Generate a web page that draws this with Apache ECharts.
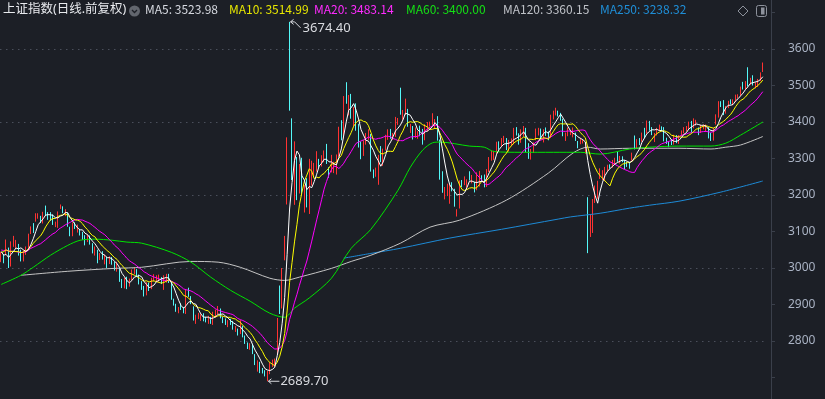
<!DOCTYPE html>
<html>
<head>
<meta charset="utf-8">
<style>
  html, body { margin: 0; padding: 0; background: #1c1f26; overflow: hidden; }
  /* 画布比窗口高, 往上挪 24px, 让 3600 正好落在第 49 行 */
  #main { position: absolute; left: 0; top: -24px; width: 825px; height: 438px; }
</style>
<script src="https://cdn.jsdelivr.net/npm/echarts@6/dist/echarts.min.js"></script>
</head>
<body>
<div id="main"></div>
<script>
// 上证指数 日K 2024-04-11 ~ 2025-07-21, 每根 [开, 收, 低, 高]
const kdata = [
  // 2024-04
  [3030,3034,3016,3044],[3031,3019,3013,3038],[3055,3057,3037,3078],[3053,3007,3000,3056],[3006,3071,3004,3073],
  [3064,3074,3058,3088],[3058,3065,3053,3077],[3058,3045,3034,3066],[3043,3021,3018,3050],[3023,3044,3018,3048],
  [3041,3052,3036,3059],[3057,3088,3050,3094],[3095,3113,3093,3114],[3108,3104,3096,3123],
  // 2024-05
  [3134,3141,3127,3150],[3141,3147,3135,3150],[3136,3128,3123,3143],[3125,3154,3122,3154],[3157,3154,3143,3171],
  [3148,3148,3132,3153],[3146,3145,3129,3153],[3140,3119,3118,3147],[3121,3122,3112,3127],[3122,3154,3110,3155],
  [3167,3171,3162,3174],[3164,3157,3150,3169],[3155,3158,3142,3161],[3152,3116,3113,3152],[3108,3088,3087,3113],
  [3090,3124,3087,3125],[3121,3109,3107,3125],[3104,3111,3097,3119],[3105,3091,3089,3106],[3091,3087,3077,3099],
  // 2024-06
  [3083,3078,3062,3090],[3076,3091,3071,3092],[3084,3065,3064,3089],[3060,3048,3040,3068],[3047,3051,3034,3059],
  [3047,3028,3013,3050],[3025,3037,3022,3041],[3037,3028,3023,3046],[3022,3032,3010,3037],[3029,3015,3000,3031],
  [3017,3030,3011,3032],[3023,3018,3009,3030],[3011,2998,2993,3017],[2997,2998,2990,3017],[2995,2963,2962,2998],
  [2958,2950,2945,2970],[2947,2972,2944,2973],[2966,2945,2942,2976],[2951,2967,2949,2971],
  // 2024-07
  [2966,2994,2966,2996],[2991,2997,2983,3002],[2994,2982,2976,2997],[2977,2957,2955,2982],[2954,2949,2940,2964],
  [2946,2927,2922,2951],[2926,2959,2925,2961],[2955,2939,2937,2960],[2943,2971,2942,2973],[2967,2971,2964,2983],
  [2967,2974,2961,2980],[2970,2976,2963,2982],[2971,2962,2956,2975],[2960,2977,2940,2980],[2972,2982,2960,2984],
  [2980,2964,2959,2984],[2962,2915,2913,2964],[2913,2901,2897,2916],[2896,2886,2880,2902],[2885,2891,2876,2893],
  [2895,2891,2885,2903],[2888,2879,2876,2893],[2879,2938,2874,2941],
  // 2024-08
  [2937,2932,2921,2946],[2915,2905,2901,2923],[2888,2860,2856,2895],[2855,2867,2847,2872],[2867,2869,2860,2877],
  [2862,2870,2855,2873],[2867,2862,2854,2876],[2859,2858,2851,2866],[2856,2868,2847,2869],[2862,2850,2847,2866],
  [2846,2877,2844,2880],[2872,2879,2864,2886],[2875,2893,2873,2896],[2887,2866,2862,2889],[2862,2856,2849,2866],
  [2856,2848,2844,2862],[2846,2855,2838,2857],[2856,2855,2844,2861],[2852,2838,2831,2855],[2836,2837,2825,2841],
  [2832,2823,2815,2834],[2823,2842,2819,2857],
  // 2024-09
  [2839,2811,2810,2842],[2805,2802,2792,2815],[2794,2784,2778,2796],[2785,2788,2776,2794],[2787,2765,2764,2792],
  [2756,2736,2734,2764],[2735,2744,2716,2747],[2738,2721,2712,2743],[2720,2717,2711,2726],[2714,2704,2703,2720],
  [2704,2717,2689.7,2718],[2719,2736,2709,2742],[2735,2736,2729,2749],[2735,2748,2729,2752],[2770,2863,2764,2863],
  [2901,2896,2874,2952],[2893,3000,2889,3000],[3049,3087,3021,3088],[3174,3336,3174,3358],
  // 2024-10
  [3674.4,3489,3431,3674.4],[3408,3259,3241,3410],[3227,3301,3173,3347],[3300,3217,3186,3304],[3207,3284,3204,3285],
  [3284,3201,3199,3302],[3189,3202,3152,3227],[3206,3169,3166,3246],[3151,3261,3148,3299],[3266,3268,3226,3294],
  [3262,3285,3253,3288],[3283,3302,3264,3320],[3293,3280,3275,3299],[3280,3300,3278,3309],[3295,3322,3290,3322],
  [3325,3286,3285,3340],[3269,3266,3247,3276],[3268,3279,3262,3310],
  // 2024-11
  [3271,3272,3260,3291],[3267,3310,3256,3311],[3309,3387,3305,3387],[3387,3383,3350,3405],[3361,3470,3355,3471],
  [3490,3452,3450,3509],[3439,3470,3418,3474],[3461,3421,3409,3477],[3413,3439,3387,3441],[3431,3380,3376,3451],
  [3384,3331,3330,3395],[3327,3324,3298,3346],[3317,3346,3307,3350],[3341,3368,3338,3370],[3360,3370,3351,3380],
  [3362,3267,3264,3367],[3267,3263,3246,3270],[3258,3259,3250,3275],[3250,3310,3228,3310],[3306,3295,3290,3334],
  [3288,3326,3280,3327],
  // 2024-12
  [3322,3364,3322,3365],[3362,3378,3351,3380],[3375,3364,3354,3381],[3357,3368,3351,3370],[3364,3404,3359,3414],
  [3400,3402,3392,3411],[3494,3422,3420,3494],[3411,3432,3406,3433],[3427,3461,3419,3464],[3434,3391,3387,3436],
  [3384,3386,3370,3395],[3387,3361,3352,3389],[3356,3382,3356,3385],[3360,3370,3354,3375],[3373,3368,3361,3390],
  [3368,3352,3338,3381],[3353,3394,3350,3394],[3391,3393,3374,3400],[3391,3398,3387,3401],[3396,3400,3392,3424],
  [3395,3407,3382,3408],[3406,3352,3349,3416],
  // 2025-01
  [3348,3262,3242,3352],[3259,3211,3206,3265],[3204,3206,3188,3222],[3204,3230,3197,3231],[3224,3230,3176,3232],
  [3225,3211,3210,3235],[3208,3169,3168,3217],[3151,3160,3141,3161],[3165,3240,3163,3240],[3239,3228,3222,3241],
  [3228,3236,3227,3251],[3229,3241,3220,3243],[3249,3244,3240,3265],[3241,3242,3232,3255],[3234,3213,3207,3236],
  [3218,3230,3213,3262],[3231,3252,3223,3266],[3251,3250,3236,3254],
  // 2025-02
  [3241,3229,3221,3256],[3227,3270,3222,3271],[3268,3303,3263,3304],[3301,3322,3294,3322],[3316,3318,3296,3321],
  [3314,3346,3313,3346],[3341,3333,3324,3347],[3337,3346,3332,3356],[3350,3355,3343,3362],[3355,3324,3323,3356],
  [3322,3351,3319,3351],[3348,3350,3334,3355],[3351,3379,3339,3384],[3380,3373,3363,3386],[3361,3346,3338,3369],
  [3346,3380,3343,3380],[3381,3388,3360,3389],[3382,3320,3317,3384],
  // 2025-03
  [3325,3316,3299,3342],[3310,3324,3297,3326],[3325,3342,3315,3344],[3354,3381,3350,3382],[3369,3372,3363,3384],
  [3374,3366,3356,3382],[3349,3379,3344,3380],[3380,3371,3362,3385],[3365,3358,3350,3374],[3357,3419,3356,3420],
  [3425,3426,3407,3431],[3427,3429,3418,3439],[3426,3426,3415,3431],[3422,3408,3403,3425],[3402,3364,3361,3409],
  [3361,3370,3348,3371],[3368,3369,3361,3385],[3367,3368,3364,3378],[3366,3373,3358,3385],[3366,3351,3348,3371],
  [3343,3336,3328,3348],
  // 2025-04
  [3339,3348,3339,3357],[3344,3350,3341,3352],[3316,3342,3313,3344],[3193,3096,3040.69,3194],[3086,3145,3085,3148],
  [3121,3186,3096,3189],[3185,3223,3178,3226],[3205,3238,3190,3239],[3247,3262,3244,3273],[3252,3267,3241,3268],
  [3258,3276,3238,3277],[3264,3280,3264,3283],[3278,3277,3272,3284],[3276,3291,3275,3296],[3289,3300,3285,3302],
  [3306,3296,3291,3320],[3296,3297,3286,3307],[3299,3295,3290,3306],[3292,3288,3271,3296],[3287,3286,3277,3291],
  [3284,3279,3272,3291],
  // 2025-05
  [3294,3316,3294,3316],[3363,3343,3325,3363],[3334,3352,3326,3353],[3348,3342,3337,3356],[3347,3370,3346,3371],
  [3378,3374,3356,3384],[3372,3403,3368,3404],[3398,3380,3376,3403],[3380,3367,3364,3386],[3363,3368,3345,3370],
  [3369,3381,3363,3384],[3379,3387,3376,3393],[3384,3380,3374,3388],[3378,3348,3347,3386],[3347,3346,3340,3357],
  [3342,3340,3331,3346],[3340,3339,3337,3352],[3338,3363,3338,3365],[3360,3347,3342,3364],
  // 2025-06
  [3341,3361,3340,3364],[3362,3376,3361,3377],[3375,3384,3369,3386],[3383,3385,3374,3389],[3385,3399,3380,3401],
  [3402,3385,3371,3403],[3387,3402,3383,3410],[3398,3402,3390,3406],[3379,3377,3364,3385],[3374,3388,3370,3392],
  [3386,3387,3380,3393],[3387,3388,3375,3393],[3383,3362,3355,3386],[3364,3359,3348,3370],[3352,3382,3349,3384],
  [3394,3421,3393,3421],[3418,3456,3412,3457],[3452,3448,3441,3457],[3450,3424,3419,3460],[3423,3444,3423,3444],
  // 2025-07
  [3442,3458,3438,3458],[3456,3455,3448,3462],[3454,3461,3446,3462],[3460,3472,3455,3475],[3468,3473,3465,3476],
  [3473,3497,3472,3497],[3498,3493,3489,3510],[3490,3510,3489,3512],[3513,3510,3497,3550],[3505,3520,3502,3521],
  [3525,3505,3500,3528],[3502,3504,3492,3509],[3498,3517,3496,3518],[3518,3534,3512,3536],[3537,3560,3537,3563]
]

// 窗口前的收盘价, 只用来算 MA5/10/20 的开头
const preCloses = [3043.83, 3038.23, 3054.64, 3084.93, 3079.69, 3077.11, 3077.11, 3048.03, 3026.31, 3031.48,
  2993.14, 3010.66, 3041.17, 3077.38, 3074.96, 3069.30, 3047.05, 3048.54, 3027.34]

// 长均线 点 [第几根K线, 数值]
const ma60Pts = [[0,2955],[8,2980],[13,3002],[20,3035],[27,3062],[32,3076],[38,3079],[45,3076],[51,3071],[57,3068],
  [69,3043],[77,3016],[85,2975],[93,2939],[101,2909],[109,2876],[115,2865],[119,2890],[125,2918],[134,2972],
  [142,3054],[150,3106],[161,3213],[166,3276],[171,3323],[175,3343],[178,3345],[190,3334],[196,3331],[200,3319],
  [211,3317],[224,3317],[235,3317],[243,3312],[255,3326],[263,3331],[275,3334],[288,3334],[294,3342],[300,3364],[309,3400]]
const ma120Pts = [[8,2980],[27,2991],[46,2999],[57,3002],[77,3018],[88,3016],[97,3002],[109,2972],[115,2966],[121,2975],
  [134,2999],[142,3018],[150,3035],[162,3068],[174,3112],[186,3131],[205,3186],[222,3260],[232,3315],[238,3331],
  [243,3326],[255,3328],[275,3328],[288,3326],[294,3331],[300,3337],[309,3360.15]]
const ma250Pts = [[139,3027],[150,3040],[162,3054],[182,3082],[203,3106],[226,3134],[231,3140],[243,3150],
  [255,3164],[263,3172],[275,3183],[292,3208],[309,3238.32]]

// 顶部图例
const maNames = ['MA5', 'MA10', 'MA20', 'MA60', 'MA120', 'MA250']
const maLast = [3523.98, 3514.99, 3483.14, 3400.00, 3360.15, 3238.32]
const maColors = ['#ffffff', '#ffff00', '#ff00ff', '#00e400', '#c4c4c4', '#1d8ad6']
const maTextColors = ['#d6d9e0', '#e6e600', '#ff2bff', '#14e014', '#bfc2c8', '#1f8fd8']
const maLeft = [145, 229, 314, 406, 503, 600]

const yTicks = [2800, 3600]  // 只显示这个范围的刻度数字
const OFF = 24  // 画布往上挪的量, 顶部文字要加回来
const headFont = '"Noto Sans", "Noto Sans CJK SC", sans-serif'

const calcMA = (n) => {
  const closes = preCloses.concat(kdata.map(d => d[1]))
  const off = preCloses.length
  return kdata.map((d, i) => {
    const j = i + off
    const s0 = Math.max(0, j - n + 1)
    let sum = 0
    for (let k = s0; k <= j; k++) sum += closes[k]
    return +(sum / (j - s0 + 1)).toFixed(2)
  })
}

const myChart = echarts.init(document.querySelector('#main'))

const lineSeries = (name, data, color, smooth) => ({
  name,
  type: 'line',
  data,
  showSymbol: false,
  smooth: smooth || false,
  silent: true,
  lineStyle: { width: 1, color },
  z: 3
})

const option = {
  backgroundColor: '#1c1f26',
  animation: false,
  title: [
    {
      left: 3, top: OFF + 3, padding: 0,
      text: '上证指数(日线.前复权)',
      textStyle: { color: '#e8eaee', fontSize: 12.5, fontWeight: 'normal', fontFamily: headFont }
    },
    ...maNames.map((n, i) => ({
      left: maLeft[i], top: OFF + 3, padding: 0,
      text: n + ': ' + maLast[i].toFixed(2),
      textStyle: { color: maTextColors[i], fontSize: 12, fontWeight: 'normal', fontFamily: 'Noto Sans CJK SC' }
    }))
  ],
  grid: { left: -1, right: 61, top: 0, bottom: 0 },
  xAxis: {
    type: 'category',
    data: kdata.map((d, i) => i),
    boundaryGap: true,
    show: false
  },
  yAxis: [
    {
      type: 'value',
      position: 'right',
      min: 2600,
      max: 3800,
      interval: 100,
      offset: 7,
      axisLine: { show: true, lineStyle: { color: '#3a3f4a' } },
      axisTick: { show: true, length: 4, lineStyle: { color: '#3a3f4a' } },
      axisLabel: {
        color: '#a9b2c3', fontSize: 12, margin: 17, fontFamily: 'Noto Sans',
        formatter: v => (v >= yTicks[0] && v <= yTicks[1]) ? v : ''
      },
      splitLine: { show: false }
    },
    {
      type: 'value',
      position: 'right',
      min: 2600,
      max: 3800,
      interval: 200,
      axisLine: { show: false },
      axisTick: { show: false },
      axisLabel: { show: false },
      splitLine: { show: true, lineStyle: { color: '#4a4f5b', type: [1.5, 4.5] } }
    }
  ],
  series: [
    {
      name: '日K',
      type: 'candlestick',
      data: kdata,
      barWidth: 1,
      silent: true,
      itemStyle: {
        color: '#ff3232',
        color0: '#54f8f8',
        borderColor: '#ff3232',
        borderColor0: '#54f8f8',
        borderWidth: 1
      },
      z: 2
    },
    lineSeries('MA250', ma250Pts, maColors[5], 0.3),
    lineSeries('MA120', ma120Pts, maColors[4], 0.3),
    lineSeries('MA60', ma60Pts, maColors[3], 0.3),
    lineSeries('MA20', calcMA(20), maColors[2]),
    lineSeries('MA10', calcMA(10), maColors[1]),
    lineSeries('MA5', calcMA(5), maColors[0])
  ]
}
myChart.setOption(option)

// 顶部小图标 + 最高最低点标注
const hiIdx = kdata.reduce((b, d, i) => d[3] > kdata[b][3] ? i : b, 0)
const loIdx = kdata.reduce((b, d, i) => d[2] < kdata[b][2] ? i : b, 0)
const [hx, hy] = myChart.convertToPixel({ xAxisIndex: 0, yAxisIndex: 0 }, [hiIdx, kdata[hiIdx][3]])
const [lx, ly] = myChart.convertToPixel({ xAxisIndex: 0, yAxisIndex: 0 }, [loIdx, kdata[loIdx][2]])
const tipColor = '#d9dbe0'
const iconColor = '#8d929c'

myChart.setOption({
  graphic: [
    // 标题后面的下拉圆圈
    { type: 'circle', shape: { cx: 134.5, cy: OFF + 11, r: 5.5 }, style: { fill: '#62666e' } },
    { type: 'polyline', shape: { points: [[132, OFF + 10], [134.5, OFF + 12.5], [137, OFF + 10]] }, style: { stroke: '#1c1f26', lineWidth: 1.3, fill: null } },
    // 右上角图标
    { type: 'polygon', shape: { points: [[743, OFF + 6], [748, OFF + 11], [743, OFF + 16], [738, OFF + 11]] }, style: { stroke: iconColor, fill: null, lineWidth: 1 } },
    { type: 'rect', shape: { x: 756.5, y: OFF + 5.5, width: 10, height: 11, r: 2 }, style: { stroke: iconColor, fill: null, lineWidth: 1 } },
    { type: 'rect', shape: { x: 761, y: OFF + 7.5, width: 3.5, height: 7 }, style: { fill: iconColor } },
    // 最高点
    { type: 'polyline', shape: { points: [[hx + 4, hy - 2.5], [hx + 1, hy], [hx + 4, hy + 2.5]] }, style: { stroke: tipColor, fill: null, lineWidth: 1 } },
    { type: 'polyline', shape: { points: [[hx + 1, hy], [hx + 5, hy], [hx + 11, hy + 6]] }, style: { stroke: tipColor, fill: null, lineWidth: 1 } },
    { type: 'text', x: hx + 13, y: hy + 6, style: { text: kdata[hiIdx][3].toFixed(2), fill: tipColor, font: '13px "Noto Sans"', verticalAlign: 'middle' } },
    // 最低点
    { type: 'polyline', shape: { points: [[lx + 4, ly - 2.5], [lx + 1, ly], [lx + 4, ly + 2.5]] }, style: { stroke: tipColor, fill: null, lineWidth: 1 } },
    { type: 'line', shape: { x1: lx + 1, y1: ly, x2: lx + 12, y2: ly }, style: { stroke: tipColor, lineWidth: 1 } },
    { type: 'text', x: lx + 13, y: ly, style: { text: kdata[loIdx][2].toFixed(2), fill: tipColor, font: '13px "Noto Sans"', verticalAlign: 'middle' } }
  ]
})
</script>
</body>
</html>
